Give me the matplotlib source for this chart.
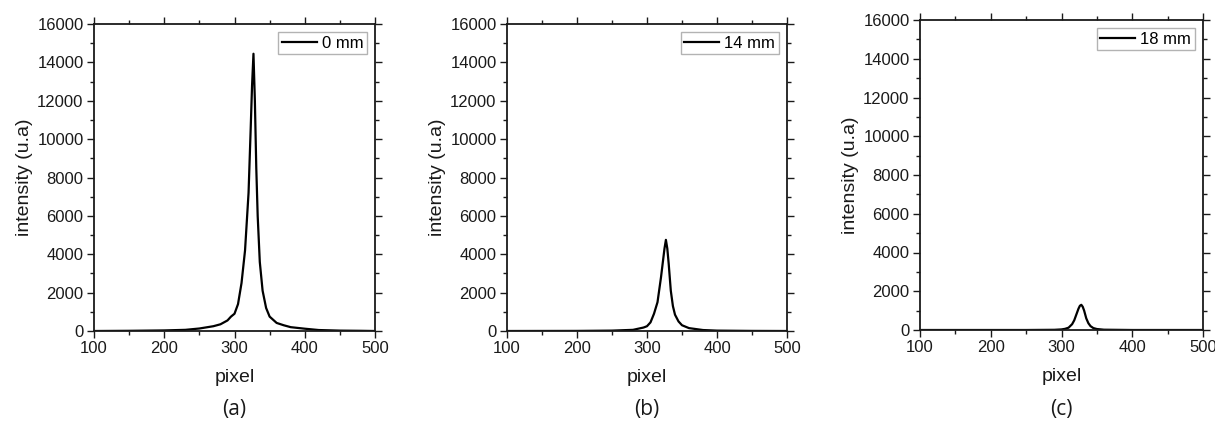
import matplotlib
matplotlib.use("Agg")
import matplotlib.pyplot as plt
from matplotlib.ticker import MultipleLocator

plt.rcParams['font.family'] = ['Liberation Sans', 'DejaVu Sans']

# profiles (pixel, intensity)
px_a = [100, 150, 200, 230, 250, 270, 280, 290, 295, 300, 305, 310, 315, 320, 323, 325, 327,
        329, 331, 333, 336, 340, 345, 350, 360, 370, 380, 400, 420, 450, 480, 500]
int_a = [0, 10, 30, 60, 130, 250, 350, 550, 750, 900, 1400, 2500, 4200, 7200, 10500, 12800, 14450,
         12000, 8500, 6000, 3600, 2100, 1200, 750, 420, 300, 200, 120, 50, 20, 10, 0]

px_b = [100, 200, 250, 280, 295, 300, 305, 310, 315, 320, 323, 325, 327, 329, 331, 334, 337,
        340, 345, 350, 360, 380, 400, 450, 500]
int_b = [0, 5, 20, 60, 180, 250, 450, 900, 1500, 2800, 3700, 4300, 4750, 4300, 3500, 2100, 1300,
         850, 500, 300, 150, 50, 20, 5, 0]

px_c = [100, 250, 290, 300, 305, 310, 315, 318, 321, 324, 326, 328, 330, 332, 335, 338, 341,
        345, 350, 360, 400, 500]
int_c = [0, 0, 10, 30, 60, 120, 300, 500, 800, 1100, 1250, 1300, 1200, 1000, 600, 350, 200,
         100, 50, 15, 0, 0]

legends = ['0 mm', '14 mm', '18 mm']
panels = ['(a)', '(b)', '(c)']

fig = plt.figure(figsize=(12.15, 4.21), dpi=100)
# axes boxes in figure pixels: left, right, top, bottom
boxes = [(94, 375, 24, 331), (507, 787, 24, 331), (920, 1203, 20, 330)]
W, H = 1215, 421
data = [(px_a, int_a), (px_b, int_b), (px_c, int_c)]

for i in range(3):
    l, r, t, b = boxes[i]
    ax = fig.add_axes([l / W, 1 - b / H, (r - l) / W, (b - t) / H])
    x, y = data[i]
    ax.plot(x, y, color='black', lw=1.6, label=legends[i])
    ax.set_xlim(100, 500)
    ax.set_ylim(0, 16000)
    ax.xaxis.set_major_locator(MultipleLocator(100))
    ax.xaxis.set_minor_locator(MultipleLocator(50))
    ax.yaxis.set_major_locator(MultipleLocator(2000))
    ax.yaxis.set_minor_locator(MultipleLocator(1000))
    ax.tick_params(which='both', direction='out', top=True, right=True, labelsize=12,
                   width=1.0, colors='#1a1a1a', pad=2.5)
    ax.tick_params(which='major', length=5)
    ax.tick_params(which='minor', length=3)
    for s in ax.spines.values():
        s.set_linewidth(1.3)
        s.set_color('#1a1a1a')
    ax.set_xlabel('pixel', fontsize=14, labelpad=9, color='#1a1a1a')
    ax.set_ylabel('intensity (u.a)', fontsize=14, labelpad=3, color='#1a1a1a')
    leg = ax.legend(loc='upper right', fontsize=12, frameon=True, fancybox=False,
                    handlelength=2.1, handletextpad=0.3, borderpad=0.2,
                    borderaxespad=0.5)
    leg.get_frame().set_edgecolor('#a0a0a0')
    leg.get_frame().set_linewidth(1.0)
    fig.text((l + r) / 2 / W, 1 - 409 / H, panels[i], ha='center', va='center',
             fontsize=15, family=['Open Sans', 'DejaVu Sans'], color='#1a1a1a')

fig.savefig('out.png', dpi=100)
